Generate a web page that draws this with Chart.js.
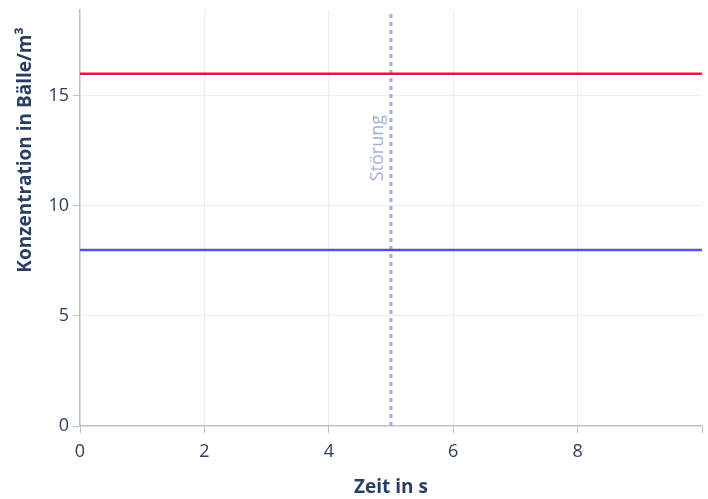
<!DOCTYPE html>
<html>
<head>
<meta charset="utf-8">
<script src="https://cdn.jsdelivr.net/npm/chart.js@4"></script>
<style>
  html, body { margin: 0; padding: 0; background: #fff; }
  #wrap { width: 708px; height: 499px; }
</style>
</head>
<body>
<div id="wrap"><canvas id="chart"></canvas></div>
<script>
// values
const X_RANGE = [0, 10];
const Y_RANGE = [0, 18.9];
const RED_LEVEL = 16;
const BLUE_LEVEL = 8;
const DISTURB_AT = 5;
const DISTURB_LABEL = 'Störung';
const X_TITLE = 'Zeit in s';
const Y_TITLE = 'Konzentration in Bälle/m³';

const FONT = "'Open Sans', 'Noto Sans', sans-serif";
const INK = '#2a3f5f';
const AXIS = '#b7c1d0';
const GRID = '#e8edf4';
const MARK = '#9db2d6';

// disturbance label + y title (the title sits above centre in the reference)
const extraText = {
  id: 'extraText',
  afterDatasetsDraw(chart) {
    const { ctx, scales } = chart;
    const x = scales.x.getPixelForValue(DISTURB_AT);
    ctx.save();
    ctx.translate(x - 13, 115);
    ctx.rotate(-Math.PI / 2);
    ctx.font = '18px ' + FONT;
    ctx.fillStyle = MARK;
    ctx.textAlign = 'right';
    ctx.textBaseline = 'middle';
    ctx.fillText(DISTURB_LABEL, 0, 0);
    ctx.restore();

    ctx.save();
    ctx.translate(26, 150);
    ctx.rotate(-Math.PI / 2);
    ctx.font = 'bold 19px ' + FONT;
    ctx.fillStyle = INK;
    ctx.textAlign = 'center';
    ctx.textBaseline = 'middle';
    ctx.fillText(Y_TITLE, 0, 0);
    ctx.restore();
  }
};

new Chart(document.getElementById('chart'), {
  type: 'line',
  data: {
    datasets: [
      {
        data: [{ x: X_RANGE[0], y: RED_LEVEL }, { x: X_RANGE[1], y: RED_LEVEL }],
        borderColor: '#e3173e',
        borderWidth: 2.5,
        pointRadius: 0,
      },
      {
        data: [{ x: X_RANGE[0], y: BLUE_LEVEL }, { x: X_RANGE[1], y: BLUE_LEVEL }],
        borderColor: '#4f4ff2',
        borderWidth: 2.5,
        pointRadius: 0,
      },
      {
        data: [{ x: DISTURB_AT, y: Y_RANGE[0] }, { x: DISTURB_AT, y: Y_RANGE[1] }],
        borderColor: MARK,
        borderWidth: 3,
        borderDash: [4, 4],
        pointRadius: 0,
      },
    ]
  },
  options: {
    responsive: true,
    maintainAspectRatio: false,
    animation: false,
    layout: { padding: { left: 0, right: 6, top: 10, bottom: 0 } },
    plugins: { legend: { display: false }, tooltip: { enabled: false } },
    scales: {
      x: {
        type: 'linear',
        min: X_RANGE[0], max: X_RANGE[1],
        afterFit(s) { s.height = 73; s.paddingLeft = 0; s.paddingRight = 0; },
        border: { color: AXIS, width: 1.5 },
        grid: {
          color: c => (c.tick.value === 0 || c.tick.value === 10) ? 'rgba(0,0,0,0)' : GRID,
          tickColor: AXIS,
          tickLength: 7,
        },
        ticks: {
          stepSize: 2,
          color: INK,
          font: { family: FONT, size: 18 },
          padding: 8,
          maxRotation: 0,
          callback: v => v === 10 ? '' : v,
        },
        title: {
          display: true, text: X_TITLE, color: INK,
          font: { family: FONT, size: 19, weight: 'bold' },
          padding: { top: 0, bottom: 0 },
        },
      },
      y: {
        min: Y_RANGE[0], max: Y_RANGE[1],
        afterFit(s) { s.width = 80; s.paddingTop = 0; s.paddingBottom = 0; },
        border: { color: AXIS, width: 1.5 },
        grid: {
          color: c => c.tick.value === 0 ? 'rgba(0,0,0,0)' : GRID,
          tickColor: AXIS,
          tickLength: 7,
        },
        ticks: {
          stepSize: 5,
          includeBounds: false,
          color: INK,
          font: { family: FONT, size: 18 },
          padding: 4,
        },
      },
    }
  },
  plugins: [extraText]
});
</script>
</body>
</html>
